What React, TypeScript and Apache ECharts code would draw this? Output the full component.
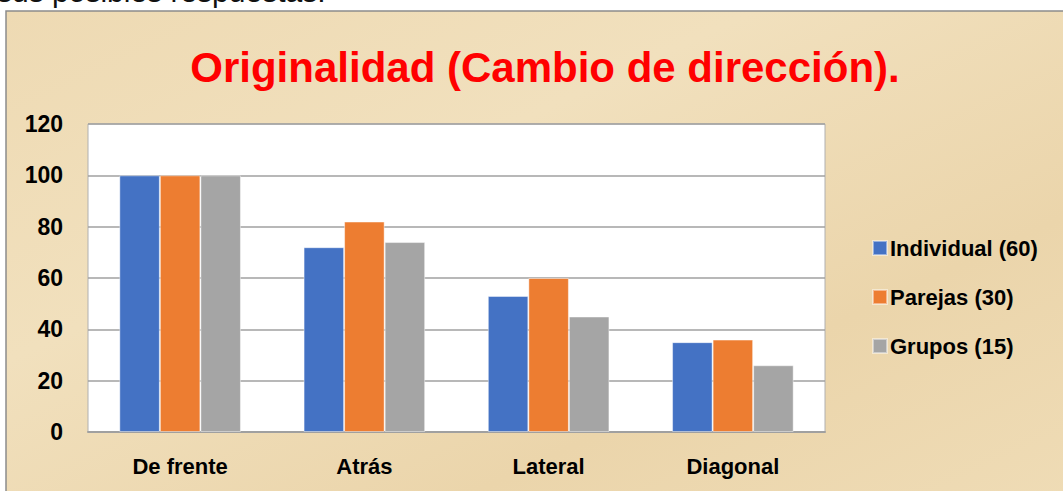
import React, { useEffect, useRef } from "react";
import * as echarts from "echarts";

const categories = ["De frente", "Atrás", "Lateral", "Diagonal"];
const seriesNames = ["Individual (60)", "Parejas (30)", "Grupos (15)"];
const individual = [100, 72, 53, 35];
const parejas = [100, 82, 60, 36];
const grupos = [100, 74, 45, 26];
const yTicks = [0, 20, 40, 60, 80, 100, 120];
const colors = ["#4472C4", "#ED7D31", "#A5A5A5"];

const FONT = "'Liberation Sans', 'Open Sans', sans-serif";

export default function App() {
  const ref = useRef<HTMLDivElement>(null);
  useEffect(() => {
    if (!ref.current) return;
    const chart = echarts.init(ref.current, null, { renderer: "svg" });
    const values = [individual, parejas, grupos];
    chart.setOption({
      animation: false,
      backgroundColor: "#ffffff",
      graphic: [
        {
          type: "rect",
          z: -10,
          silent: true,
          shape: { x: 6, y: 11, width: 1070, height: 500 },
          style: {
            fill: {
              type: "linear",
              x: 0,
              y: 0,
              x2: 1,
              y2: 1,
              colorStops: [
                { offset: 0, color: "#EEDAB3" },
                { offset: 0.35, color: "#F1E0BD" },
                { offset: 0.7, color: "#EBD5AB" },
                { offset: 1, color: "#EFDCB6" },
              ],
            },
            stroke: "#8c8c8c",
            lineWidth: 1.5,
          },
        },
        {
          type: "text",
          left: -3,
          top: -24,
          silent: true,
          style: {
            text: "sus posibles respuestas.",
            font: `30px ${FONT}`,
            fill: "#111",
          },
        },
      ],
      title: {
        text: "Originalidad (Cambio de dirección).",
        left: 540,
        textAlign: "center",
        top: 41,
        textStyle: {
          color: "#FF0000",
          fontSize: 42,
          fontWeight: "bold",
          fontFamily: FONT,
        },
      },
      legend: {
        orient: "vertical",
        left: 867,
        top: 232,
        itemWidth: 14,
        itemHeight: 14,
        itemGap: 27,
        icon: "rect",
        data: seriesNames,
        textStyle: {
          fontSize: 22,
          fontWeight: "bold",
          color: "#000",
          fontFamily: FONT,
          padding: [0, 0, 0, -2],
        },
      },
      grid: {
        left: 88,
        right: 238,
        top: 124,
        bottom: 59,
        show: true,
        backgroundColor: "#ffffff",
        borderColor: "#b0b0b0",
        borderWidth: 1,
      },
      xAxis: {
        type: "category",
        data: categories,
        axisTick: { show: false },
        axisLine: { lineStyle: { color: "#a0a0a0", width: 2 } },
        axisLabel: {
          margin: 23,
          fontSize: 22,
          fontWeight: "bold",
          color: "#000",
          fontFamily: FONT,
        },
      },
      yAxis: {
        type: "value",
        min: 0,
        max: 120,
        interval: 20,
        axisLine: { show: false },
        axisTick: { show: false },
        splitLine: { lineStyle: { color: "#a0a0a0", width: 1.5 } },
        axisLabel: {
          margin: 25,
          fontSize: 23,
          fontWeight: "bold",
          color: "#000",
          fontFamily: FONT,
          formatter: (v: number) => (yTicks.includes(v) ? String(v) : ""),
        },
      },
      series: seriesNames.map((name, i) => ({
        name,
        type: "bar",
        data: values[i],
        barGap: "0%",
        barCategoryGap: "34%",
        itemStyle: {
          color: colors[i],
          borderColor: "rgba(255,255,255,0.45)",
          borderWidth: 1,
        },
      })),
    });
    return () => chart.dispose();
  }, []);
  return (
    <div
      ref={ref}
      style={{ position: "fixed", left: 0, top: 0, width: 1063, height: 491 }}
    />
  );
}
